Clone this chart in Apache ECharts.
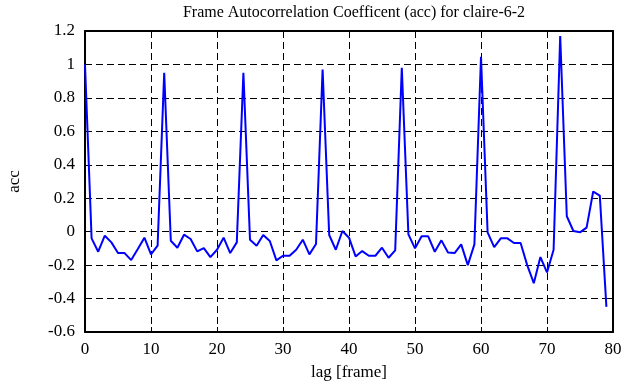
<!DOCTYPE html>
<html>
<head>
<meta charset="utf-8">
<script src="https://cdn.jsdelivr.net/npm/echarts@6/dist/echarts.min.js"></script>
<style>
  html, body { margin: 0; padding: 0; background: #fff; }
  #acc { width: 625px; height: 387px; }
</style>
</head>
<body>
<div id="acc"></div>
<script>
var lags = [];
for (var i = 0; i < 80; ++i) lags.push(i);

var accValues = [
  1.0, -0.04, -0.12, -0.024, -0.064, -0.128, -0.128, -0.17, -0.104, -0.036,
  -0.136, -0.084, 0.95, -0.054, -0.096, -0.018, -0.044, -0.118, -0.098, -0.152,
  -0.108, -0.036, -0.128, -0.064, 0.95, -0.048, -0.084, -0.02, -0.056, -0.172,
  -0.144, -0.144, -0.108, -0.048, -0.136, -0.074, 0.97, -0.02, -0.108, 0.004,
  -0.036, -0.148, -0.116, -0.144, -0.144, -0.096, -0.156, -0.112, 0.98, -0.016,
  -0.1, -0.028, -0.028, -0.12, -0.052, -0.124, -0.128, -0.076, -0.2, -0.076,
  1.046, -0.004, -0.092, -0.04, -0.04, -0.068, -0.068, -0.2, -0.308, -0.152,
  -0.244, -0.108, 1.17, 0.092, 0.004, -0.004, 0.024, 0.24, 0.216, -0.45
];

var accChart = echarts.init(document.getElementById('acc'));

var font = 'Liberation Serif';
var dashed = { show: true, lineStyle: { color: '#000', type: [7, 4], width: 1 } };

var accOption = {
  animation: false,
  textStyle: { fontFamily: font },
  title: {
    text: 'Frame Autocorrelation Coefficent (acc) for claire-6-2',
    left: 349,
    textAlign: 'center',
    top: 0,
    textStyle: { fontFamily: font, fontSize: 16, fontWeight: 'normal', color: '#000' }
  },
  grid: { left: 85, right: 12, top: 31, bottom: 55, containLabel: false, outerBoundsMode: 'none' },
  xAxis: [
    {
      type: 'value', min: 0, max: 80, interval: 10,
      name: 'lag [frame]', nameLocation: 'middle', nameGap: 32,
      nameTextStyle: { fontFamily: font, fontSize: 17, color: '#000' },
      axisLine: { onZero: false, lineStyle: { color: '#000', width: 2 } },
      axisTick: { inside: true, length: 5, lineStyle: { color: '#000' } },
      axisLabel: { fontFamily: font, fontSize: 17, color: '#000', margin: 9 },
      splitLine: dashed
    },
    {
      type: 'value', min: 0, max: 80, interval: 10, position: 'top',
      axisLine: { onZero: false, lineStyle: { color: '#000', width: 2 } },
      axisTick: { inside: true, length: 5, lineStyle: { color: '#000' } },
      axisLabel: { show: false }, splitLine: { show: false }
    }
  ],
  yAxis: [
    {
      type: 'value', min: -0.6, max: 1.2, interval: 0.2,
      name: 'acc', nameLocation: 'middle', nameGap: 62, nameRotate: 90,
      nameTextStyle: { fontFamily: font, fontSize: 17, color: '#000' },
      axisLine: { show: true, onZero: false, lineStyle: { color: '#000', width: 2 } },
      axisTick: { show: true, inside: true, length: 5, lineStyle: { color: '#000' } },
      axisLabel: {
        fontFamily: font, fontSize: 17, color: '#000', margin: 10,
        formatter: function (v) { return String(parseFloat(v.toFixed(1))); }
      },
      splitLine: dashed
    },
    {
      type: 'value', min: -0.6, max: 1.2, interval: 0.2, position: 'right',
      axisLine: { show: true, onZero: false, lineStyle: { color: '#000', width: 2 } },
      axisTick: { show: true, inside: true, length: 5, lineStyle: { color: '#000' } },
      axisLabel: { show: false }, splitLine: { show: false }
    }
  ],
  series: [
    {
      name: 'acc',
      type: 'line',
      showSymbol: false,
      data: lags.map(function (l, i) { return [l, accValues[i]]; }),
      lineStyle: { color: '#0000ff', width: 2 }
    }
  ]
};

accChart.setOption(accOption);
</script>
</body>
</html>
